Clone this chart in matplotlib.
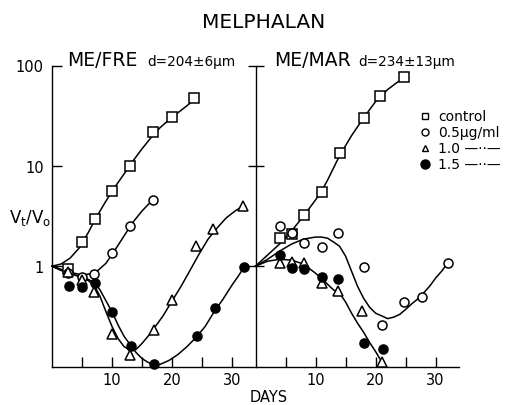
import numpy as np
import matplotlib
matplotlib.use("Agg")
import matplotlib.pyplot as plt
from matplotlib.lines import Line2D

# --- данные (сутки, Vt/V0) ---
# ME/FRE: точки
fre_ctrl_d = [2.7, 5, 7.2, 10, 13, 16.8, 20, 23.7]
fre_ctrl_v = [0.93, 1.74, 2.95, 5.6, 10, 21.9, 31, 47]
fre_05_d = [2.7, 5, 7, 10, 13, 16.8]
fre_05_v = [0.85, 0.78, 0.83, 1.35, 2.5, 4.6]
fre_10_d = [2.7, 5, 7, 10, 13, 17, 20, 24, 26.8, 31.8]
fre_10_v = [0.87, 0.72, 0.55, 0.21, 0.13, 0.23, 0.46, 1.58, 2.35, 4.0]
fre_15_d = [2.8, 5, 7.2, 10, 13.2, 17, 24.2, 27.2, 32]
fre_15_v = [0.63, 0.62, 0.68, 0.35, 0.16, 0.107, 0.2, 0.38, 0.98]

# ME/FRE: проведённые от руки кривые
fre_ctrl_cd = [0, 1.5, 3, 4.5, 6, 7.5, 9, 10.5, 12, 13.5, 15, 16.5, 18, 19.5, 21, 22.5, 23.7]
fre_ctrl_cv = [1.0, 1.05, 1.2, 1.51, 2.14, 3.16, 4.47, 6.17, 8.3, 11.2, 14.8, 19.1, 24, 28.8, 33.9, 39.8, 45.7]
fre_05_cd = [0, 1.5, 3, 4.5, 6, 7.5, 9, 10.5, 12, 13.5, 15, 16.8]
fre_05_cv = [1.0, 0.93, 0.87, 0.83, 0.83, 0.89, 1.07, 1.45, 2.0, 2.75, 3.55, 4.6]
fre_10_cd = [0, 1.5, 3, 4.5, 6, 7, 8, 9, 10, 11, 12, 13, 14, 15, 16, 17, 18.5, 20, 21.5,
             23, 24.5, 26, 27.5, 29, 30.5, 31.8]
fre_10_cv = [1.0, 0.91, 0.85, 0.79, 0.72, 0.65, 0.5, 0.35, 0.25, 0.19, 0.158, 0.145, 0.148,
             0.17, 0.2, 0.24, 0.32, 0.45, 0.63, 0.91, 1.32, 1.86, 2.4, 3.02, 3.55, 3.98]
fre_15_cd = [0, 1.5, 3, 4.5, 6, 7, 8, 9, 10, 11, 12, 13, 14, 15, 16, 17, 18, 19.5, 21,
             22.5, 24, 25.5, 27, 28.5, 30, 31, 32]
fre_15_cv = [1.0, 0.91, 0.85, 0.79, 0.74, 0.69, 0.58, 0.45, 0.35, 0.26, 0.2, 0.166, 0.138,
             0.12, 0.11, 0.105, 0.105, 0.115, 0.132, 0.158, 0.195, 0.25, 0.35, 0.47, 0.65,
             0.79, 0.98]

# ME/MAR: точки
mar_ctrl_d = [4, 6, 8, 11, 14, 18, 20.8, 24.8]
mar_ctrl_v = [1.9, 2.1, 3.2, 5.5, 13.5, 30, 50, 76]
mar_05_d = [4, 6, 8, 11, 13.8, 18, 21, 24.8, 27.8, 32]
mar_05_v = [2.5, 2.15, 1.7, 1.55, 2.15, 0.98, 0.26, 0.44, 0.49, 1.07]
mar_10_d = [4, 6, 8, 11, 13.8, 17.8, 21]
mar_10_v = [1.07, 1.1, 1.07, 0.68, 0.56, 0.36, 0.11]
mar_15_d = [4, 6, 8, 11, 13.8, 18, 21.2]
mar_15_v = [1.3, 0.95, 0.93, 0.78, 0.74, 0.17, 0.15]

# ME/MAR: кривые
mar_ctrl_cd = [0, 2, 4, 6, 8, 10, 11, 12, 14, 16, 18, 20, 22, 24, 25]
mar_ctrl_cv = [1.0, 1.29, 1.66, 2.24, 3.16, 4.57, 5.6, 7.2, 12.6, 20, 30, 43.7, 57.5, 70.8, 75.9]
mar_05_cd = [0, 2, 4, 6, 8, 10, 11, 12, 13, 14, 15, 16, 17, 18, 19, 20, 21, 22, 23, 24,
             25, 26, 27, 28, 29, 30, 31, 32]
mar_05_cv = [1.0, 1.17, 1.41, 1.66, 1.86, 1.95, 1.95, 1.9, 1.74, 1.58, 1.26, 0.89, 0.63,
             0.48, 0.39, 0.34, 0.32, 0.3, 0.31, 0.33, 0.37, 0.42, 0.47, 0.54, 0.63, 0.76,
             0.89, 1.07]
mar_hi_cd = [0, 2, 4, 6, 8, 10, 11, 12, 13, 14, 15, 16, 17, 18, 19, 20, 21, 21.5]
mar_hi_cv = [1.0, 1.12, 1.17, 1.15, 1.05, 0.85, 0.76, 0.66, 0.58, 0.54, 0.44, 0.34, 0.27,
             0.22, 0.174, 0.141, 0.112, 0.1]

yticks = [1, 10, 100]
ytick_labels = ['1', '10', '100']
xticks = [5, 10, 15, 20, 25, 30]
xtick_labels = ['', '10', '', '20', '', '30']

W, H = 505, 406
fig = plt.figure(figsize=(W / 100, H / 100), dpi=100)
plt.rcParams['font.family'] = ['DejaVu Sans']

ax1 = fig.add_axes([52 / W, 38.5 / H, 203.5 / W, 301 / H])
ax2 = fig.add_axes([255.5 / W, 38.5 / H, 203.5 / W, 301 / H])

ms = dict(markersize=6.5, markeredgewidth=1.1, linestyle='none', zorder=3, clip_on=False)


def draw_panel(ax, curves, ctrl, c05, c10, c15):
    for cd, cv in curves:
        ax.plot(cd, cv, color='k', lw=1.1, zorder=2, clip_on=False)
    ax.plot(ctrl[0], ctrl[1], marker='s', mfc='white', mec='k', **ms)
    ax.plot(c05[0], c05[1], marker='o', mfc='white', mec='k', **ms)
    ax.plot(c10[0], c10[1], marker='^', mfc='white', mec='k', **ms)
    ax.plot(c15[0], c15[1], marker='o', mfc='k', mec='k', **ms)
    ax.set_yscale('log')
    ax.set_ylim(0.1, 100)
    ax.set_xlim(0, 33.9)
    ax.minorticks_off()
    ax.set_xticks(xticks)
    ax.set_xticklabels(xtick_labels, fontsize=10.5)
    ax.tick_params(axis='x', direction='in', length=7.5, width=1.0, pad=4)
    for s in ['top', 'right']:
        ax.spines[s].set_visible(False)
    for s in ['left', 'bottom']:
        ax.spines[s].set_linewidth(1.0)


draw_panel(ax1,
           [(fre_ctrl_cd, fre_ctrl_cv), (fre_05_cd, fre_05_cv),
            (fre_10_cd, fre_10_cv), (fre_15_cd, fre_15_cv)],
           (fre_ctrl_d, fre_ctrl_v), (fre_05_d, fre_05_v),
           (fre_10_d, fre_10_v), (fre_15_d, fre_15_v))
ax1.set_yticks(yticks)
ax1.set_yticklabels(ytick_labels, fontsize=10.5)
ax1.tick_params(axis='y', direction='in', length=7.5, width=1.0, pad=6)

draw_panel(ax2,
           [(mar_ctrl_cd, mar_ctrl_cv), (mar_05_cd, mar_05_cv), (mar_hi_cd, mar_hi_cv)],
           (mar_ctrl_d, mar_ctrl_v), (mar_05_d, mar_05_v),
           (mar_10_d, mar_10_v), (mar_15_d, mar_15_v))
ax2.set_yticks(yticks)
ax2.set_yticklabels([])
ax2.tick_params(axis='y', direction='inout', length=11.5, width=1.0)

# заголовки
fig.text(264 / W, 1 - 22.5 / H, 'MELPHALAN', ha='center', va='center', fontsize=14.5)
fig.text(67 / W, 1 - 66 / H, 'ME/FRE', ha='left', va='baseline', fontsize=13.5)
fig.text(147 / W, 1 - 66 / H, 'd=204±6μm', ha='left', va='baseline', fontsize=9.8)
fig.text(274 / W, 1 - 66 / H, 'ME/MAR', ha='left', va='baseline', fontsize=13.5)
fig.text(358 / W, 1 - 66 / H, 'd=234±13μm', ha='left', va='baseline', fontsize=9.8)

fig.text(30 / W, 1 - 218 / H, r'$\mathregular{V_t/V_o}$', ha='center', va='center', fontsize=12)
fig.text(269 / W, 1 - 398 / H, 'DAYS', ha='center', va='center', fontsize=10.5)

# легенда
leg_rows = [('s', 'white', 'control'), ('o', 'white', '0.5μg/ml'),
            ('^', 'white', '1.0 —··—'), ('o', 'k', '1.5 —··—')]
for i, (mk, fc, lab) in enumerate(leg_rows):
    yy = 1 - (117 + 16 * i) / H
    fig.add_artist(Line2D([425 / W], [yy], marker=mk, mfc=fc, mec='k',
                          markersize=5 if fc == 'white' else 6.5, mew=1.0,
                          transform=fig.transFigure))
    fig.text(438 / W, yy, lab, ha='left', va='center', fontsize=10)

fig.savefig('out.png', dpi=100)
